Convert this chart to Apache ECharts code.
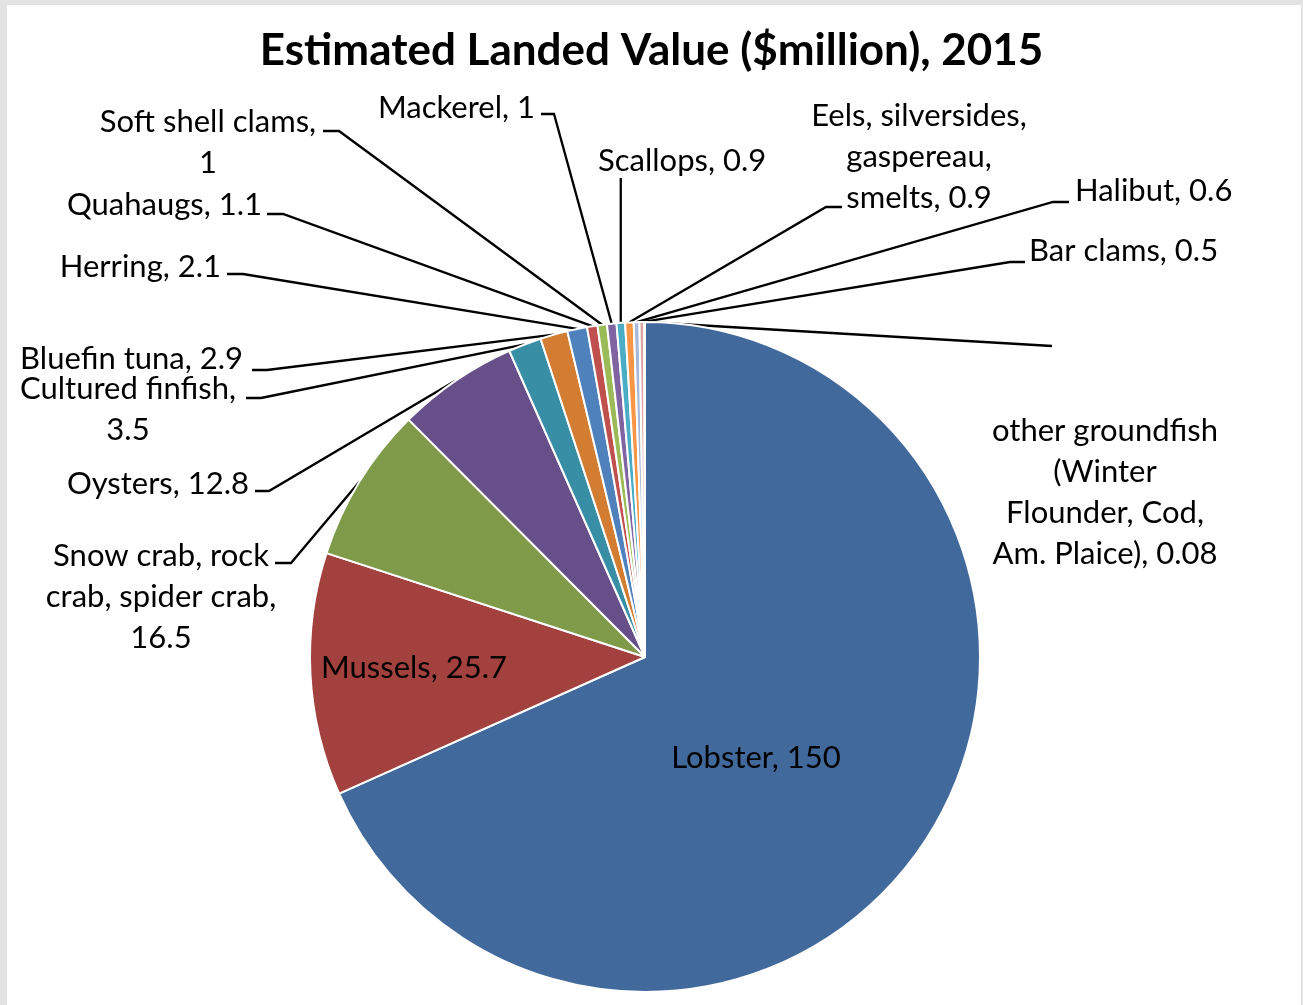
<!DOCTYPE html>
<html>
<head>
<meta charset="utf-8">
<title>Estimated Landed Value 2015</title>
<script src="https://cdn.jsdelivr.net/npm/echarts@6/dist/echarts.min.js"></script>
<style>
    html, body { margin: 0; padding: 0; background: #e3e3e3; }
    #main { width: 1303px; height: 1005px; }
</style>
</head>
<body>
<div id="main"></div>
<script>
// data
var species = ['Lobster', 'Mussels', 'Snow crab, rock crab, spider crab', 'Oysters', 'Cultured finfish',
    'Bluefin tuna', 'Herring', 'Quahaugs', 'Soft shell clams', 'Mackerel', 'Scallops',
    'Eels, silversides, gaspereau, smelts', 'Halibut', 'Bar clams',
    'other groundfish (Winter Flounder, Cod, Am. Plaice)'];
var landed_value = [150, 25.7, 16.5, 12.8, 3.5, 2.9, 2.1, 1.1, 1, 1, 0.9, 0.9, 0.6, 0.5, 0.08];
// label text as it wraps in the picture (value is appended)
var label_text = ['Lobster, ', 'Mussels, ', 'Snow crab, rock\ncrab, spider crab,\n', 'Oysters, ',
    'Cultured finfish,\n', 'Bluefin tuna, ', 'Herring, ', 'Quahaugs, ', 'Soft shell clams,\n',
    'Mackerel, ', 'Scallops, ', 'Eels, silversides,\ngaspereau,\nsmelts, ', 'Halibut, ',
    'Bar clams, ', 'other groundfish\n(Winter\nFlounder, Cod,\nAm. Plaice), '];
var slice_colors = ['#42699c', '#a2413e', '#7f9b4a', '#67508a', '#378ea5', '#d27d32',
    '#4f81bd', '#c0504d', '#9bbb59', '#8064a2', '#4bacc6', '#f79646',
    '#a7b9da', '#daa7a6', '#c3d6a0'];

// where each label sits (text anchor) and where its leader line bends / ends
var label_pos = [
    { x: 756, y: 758, align: 'center', va: 'middle' },
    { x: 414, y: 668, align: 'center', va: 'middle' },
    { x: 161, y: 535, align: 'center', elbow: [291, 563], end: [275, 563] },
    { x: 249, y: 463, align: 'right', elbow: [269, 491], end: [255, 491] },
    { x: 128, y: 368, align: 'center', elbow: [261, 398], end: [246, 398] },
    { x: 243, y: 338, align: 'right', elbow: [267, 370], end: [252, 370] },
    { x: 221, y: 246, align: 'right', elbow: [243, 274], end: [227, 274] },
    { x: 262, y: 184, align: 'right', elbow: [283, 214], end: [267, 214] },
    { x: 208, y: 101, align: 'center', elbow: [339, 131], end: [323, 131] },
    { x: 535, y: 87, align: 'right', elbow: [554, 114], end: [541, 114] },
    { x: 598, y: 140, align: 'left', vertical: 178 },
    { x: 919, y: 95, align: 'center', elbow: [826, 207], end: [842, 207] },
    { x: 1075, y: 170, align: 'left', elbow: [1053, 202], end: [1069, 202] },
    { x: 1029, y: 230, align: 'left', elbow: [1010, 262], end: [1025, 262] },
    { x: 1105, y: 410, align: 'center', end: [1052, 346] }
];

var chart = echarts.init(document.getElementById('main'));

var pie_data = [];
for (var i = 0; i < species.length; i++) {
    var item = {
        name: species[i],
        value: landed_value[i],
        itemStyle: { color: slice_colors[i] }
    };
    if (i < 2) {
        item.label = { position: 'inside' };
        item.labelLine = { show: false };
    }
    pie_data.push(item);
}

var option = {
    backgroundColor: '#e3e3e3',
    animation: false,
    title: {
        text: 'Estimated Landed Value ($million), 2015',
        left: 'center',
        top: 24,
        textStyle: {
            fontFamily: 'Lato',
            fontWeight: 'bold',
            fontSize: 44,
            color: '#000'
        }
    },
    graphic: [
        {
            type: 'rect',
            z: -1,
            shape: { x: 7, y: 5, width: 1294, height: 1000 },
            style: { fill: '#fff' }
        }
    ],
    series: [
        {
            type: 'pie',
            center: [645, 657],
            radius: 335,
            startAngle: 90,
            clockwise: true,
            avoidLabelOverlap: false,
            itemStyle: {
                borderColor: '#fff',
                borderWidth: 2
            },
            label: {
                show: true,
                position: 'outside',
                fontFamily: 'Lato',
                fontSize: 31,
                lineHeight: 41,
                color: '#000',
                formatter: function (p) {
                    return label_text[p.dataIndex] + p.value;
                }
            },
            labelLine: {
                show: true,
                length: 20,
                length2: 20,
                smooth: false,
                lineStyle: { color: '#000', width: 2.3 }
            },
            labelLayout: function (params) {
                var p = label_pos[params.dataIndex];
                var out = {
                    x: p.x,
                    y: p.y,
                    align: p.align,
                    verticalAlign: p.va || 'top'
                };
                var pts = params.labelLinePoints;
                if (pts && pts.length) {
                    var start = pts[0];
                    if (p.vertical != null) {
                        out.labelLinePoints = [start, [start[0], p.vertical], [start[0], p.vertical]];
                    } else if (p.elbow) {
                        out.labelLinePoints = [start, p.elbow, p.end];
                    } else if (p.end) {
                        out.labelLinePoints = [start, p.end, p.end];
                    }
                }
                return out;
            },
            data: pie_data
        }
    ]
};

chart.setOption(option);
</script>
</body>
</html>
